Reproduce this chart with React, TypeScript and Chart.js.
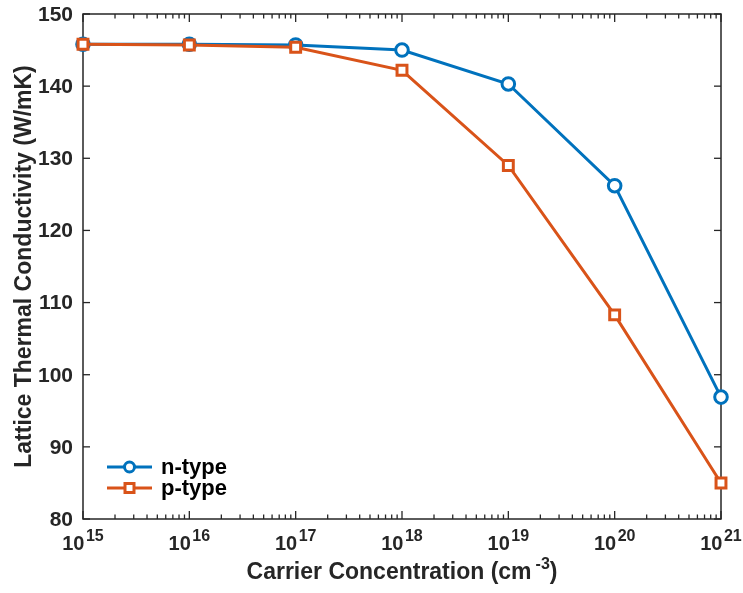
import { useEffect, useRef } from "react";
import { Chart, registerables } from "chart.js";

Chart.register(...registerables);

const carrierConc = [1e15, 1e16, 1e17, 1e18, 1e19, 1e20, 1e21];
const nType = [145.8, 145.8, 145.7, 145.0, 140.3, 126.2, 96.9];
const pType = [145.8, 145.7, 145.4, 142.2, 129.0, 108.3, 85.0];
const yTicks = [80, 90, 100, 110, 120, 130, 140, 150];
const xExponents = [15, 16, 17, 18, 19, 20, 21];
const minorMultipliers = [2, 3, 4, 5, 6, 7, 8, 9];
const seriesNames = ["n-type", "p-type"];

const BLUE = "#0072BD";
const ORANGE = "#D95319";
const AX = "#262626";
const FONT = "'Liberation Sans', Arial, Helvetica, sans-serif";

const axesPlugin = {
  id: "matlabAxes",
  beforeDatasetsDraw(chart: any) {
    const { ctx, chartArea: a, scales } = chart;
    const xs = scales.x;
    const ys = scales.y;
    ctx.save();
    ctx.strokeStyle = AX;
    ctx.lineWidth = 1.5;
    ctx.strokeRect(a.left, a.top, a.right - a.left, a.bottom - a.top);
    const seg = (x1: number, y1: number, x2: number, y2: number) => {
      ctx.beginPath();
      ctx.moveTo(x1, y1);
      ctx.lineTo(x2, y2);
      ctx.stroke();
    };
    ctx.lineWidth = 1.3;
    for (const v of yTicks) {
      const py = ys.getPixelForValue(v);
      seg(a.left, py, a.left + 7, py);
      seg(a.right, py, a.right - 7, py);
    }
    for (let i = 0; i < xExponents.length; i++) {
      const base = Math.pow(10, xExponents[i]);
      const px = xs.getPixelForValue(base);
      seg(px, a.bottom, px, a.bottom - 8);
      seg(px, a.top, px, a.top + 8);
      if (i < xExponents.length - 1) {
        for (const m of minorMultipliers) {
          const mx = xs.getPixelForValue(m * base);
          seg(mx, a.bottom, mx, a.bottom - 4.5);
          seg(mx, a.top, mx, a.top + 4.5);
        }
      }
    }
    ctx.restore();
  },
  afterDraw(chart: any) {
    const { ctx, chartArea: a, scales } = chart;
    const xs = scales.x;
    const ys = scales.y;
    ctx.save();
    ctx.fillStyle = AX;
    // y tick labels
    ctx.font = `bold 21px ${FONT}`;
    ctx.textAlign = "right";
    ctx.textBaseline = "middle";
    for (const v of yTicks) {
      ctx.fillText(String(v), a.left - 10, ys.getPixelForValue(v) + 1);
    }
    // x tick labels with superscripts
    ctx.textBaseline = "alphabetic";
    ctx.textAlign = "left";
    const supGap = 1.5;
    for (const e of xExponents) {
      const px = xs.getPixelForValue(Math.pow(10, e));
      ctx.font = `bold 20px ${FONT}`;
      const w1 = ctx.measureText("10").width;
      ctx.font = `bold 16px ${FONT}`;
      const w2 = ctx.measureText(String(e)).width;
      const start = px - (w1 + supGap + w2) / 2;
      ctx.font = `bold 20px ${FONT}`;
      ctx.fillText("10", start, a.bottom + 31);
      ctx.font = `bold 16px ${FONT}`;
      ctx.fillText(String(e), start + w1 + supGap, a.bottom + 22);
    }
    // x axis title
    const t1 = "Carrier Concentration (cm";
    const t2 = "-3";
    const t3 = ")";
    ctx.font = `bold 23px ${FONT}`;
    const tw1 = ctx.measureText(t1).width;
    const tw3 = ctx.measureText(t3).width;
    ctx.font = `bold 16px ${FONT}`;
    const tw2 = ctx.measureText(t2).width;
    const gap = 4;
    const cx = (a.left + a.right) / 2;
    let sx = cx - (tw1 + gap + tw2 + tw3) / 2;
    const by = a.bottom + 60;
    ctx.font = `bold 23px ${FONT}`;
    ctx.fillText(t1, sx, by);
    sx += tw1 + gap;
    ctx.font = `bold 16px ${FONT}`;
    ctx.fillText(t2, sx, by - 10);
    sx += tw2;
    ctx.font = `bold 23px ${FONT}`;
    ctx.fillText(t3, sx, by);
    // y axis title
    ctx.save();
    ctx.translate(31, (a.top + a.bottom) / 2);
    ctx.rotate(-Math.PI / 2);
    ctx.textAlign = "center";
    ctx.textBaseline = "alphabetic";
    ctx.font = `bold 23px ${FONT}`;
    ctx.fillText("Lattice Thermal Conductivity (W/mK)", 0, 0);
    ctx.restore();
    // legend
    const lx1 = a.left + 24;
    const lx2 = a.left + 69;
    const lmx = (lx1 + lx2) / 2;
    const rows = [
      { y: a.bottom - 52, color: BLUE, shape: "circle" },
      { y: a.bottom - 31, color: ORANGE, shape: "square" },
    ];
    rows.forEach((r, i) => {
      ctx.strokeStyle = r.color;
      ctx.lineWidth = 3;
      ctx.beginPath();
      ctx.moveTo(lx1, r.y);
      ctx.lineTo(lx2, r.y);
      ctx.stroke();
      ctx.fillStyle = "#ffffff";
      ctx.beginPath();
      if (r.shape === "circle") {
        ctx.arc(lmx, r.y, 5, 0, Math.PI * 2);
      } else {
        ctx.rect(lmx - 4.5, r.y - 4.5, 9, 9);
      }
      ctx.fill();
      ctx.stroke();
      ctx.fillStyle = "#000000";
      ctx.font = `bold 22px ${FONT}`;
      ctx.textAlign = "left";
      ctx.textBaseline = "middle";
      ctx.fillText(seriesNames[i], a.left + 78, r.y + 1);
    });
    ctx.restore();
  },
};

export default function App() {
  const canvasRef = useRef<HTMLCanvasElement | null>(null);

  useEffect(() => {
    if (!canvasRef.current) return;
    const chart = new Chart(canvasRef.current, {
      type: "line",
      data: {
        datasets: [
          {
            label: seriesNames[0],
            data: carrierConc.map((x, i) => ({ x, y: nType[i] })),
            borderColor: BLUE,
            backgroundColor: "#ffffff",
            borderWidth: 3,
            pointStyle: "circle",
            pointRadius: 6.3,
            pointBorderWidth: 3,
            pointBackgroundColor: "#ffffff",
            pointBorderColor: BLUE,
            clip: false,
            order: 1,
          } as any,
          {
            label: seriesNames[1],
            data: carrierConc.map((x, i) => ({ x, y: pType[i] })),
            borderColor: ORANGE,
            backgroundColor: "#ffffff",
            borderWidth: 3,
            pointStyle: "rect",
            pointRadius: 7,
            pointBorderWidth: 3,
            pointBackgroundColor: "#ffffff",
            pointBorderColor: ORANGE,
            clip: false,
            order: 0,
          } as any,
        ],
      },
      options: {
        animation: false,
        responsive: true,
        maintainAspectRatio: false,
        layout: { padding: { left: 83, top: 14, right: 22, bottom: 74 } },
        plugins: {
          legend: { display: false },
          tooltip: { enabled: false },
        },
        scales: {
          x: { type: "logarithmic", min: 1e15, max: 1e21, display: false },
          y: { type: "linear", min: 80, max: 150, display: false },
        },
      },
      plugins: [axesPlugin],
    });
    return () => chart.destroy();
  }, []);

  return (
    <div style={{ position: "fixed", left: 0, top: 0, width: 743, height: 593, background: "#ffffff" }}>
      <canvas ref={canvasRef} />
    </div>
  );
}
